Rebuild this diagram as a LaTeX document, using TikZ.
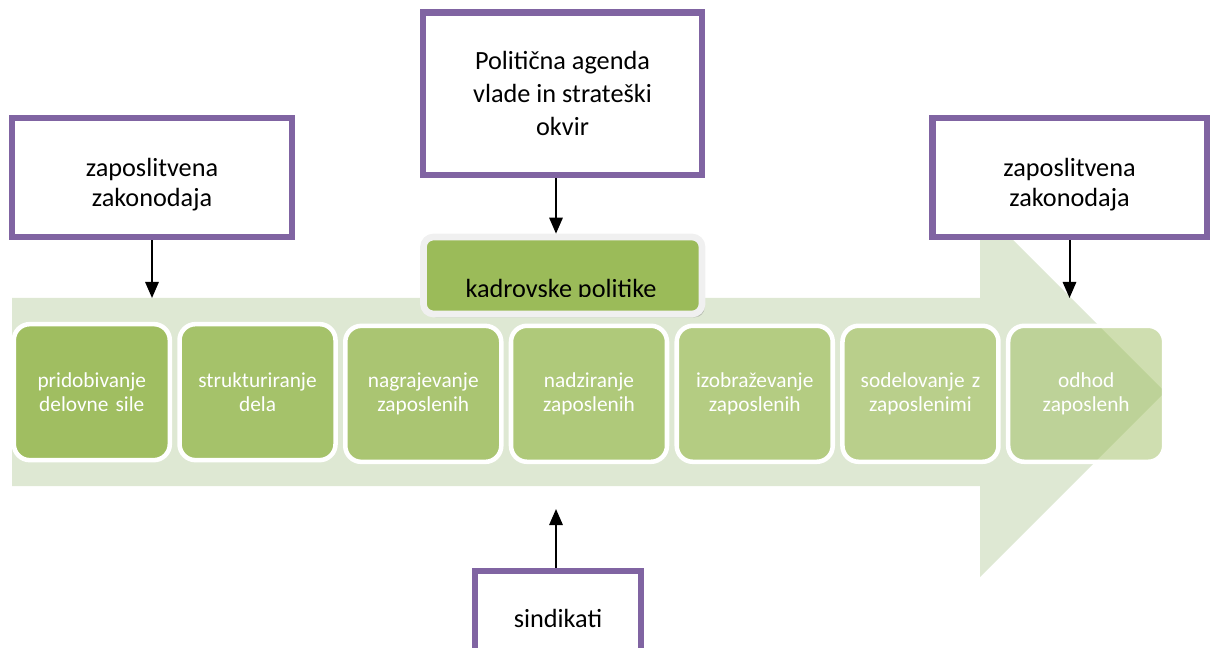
\documentclass[tikz,border=0pt]{standalone}
\usepackage{fontspec}
\setmainfont{Carlito}
\usepackage{tikz}
\usetikzlibrary{arrows.meta,matrix,positioning,shadows}
\definecolor{olive}{HTML}{9BBB59}
\definecolor{flowbg}{RGB}{222,232,211}
\definecolor{framepurple}{HTML}{8064A2}
\tikzset{frame box/.style={
    draw=framepurple, line width=5pt, fill=white,
    minimum width=#1,
    align=center,
    inner sep=0pt,
    font=\fontsize{19.7}{22}\selectfont
  },
  frame box/.default=210pt,
  step row/.style={
    matrix of nodes,
    column sep=3.9pt,
    nodes={draw=white, line width=3.4pt,
      rounded corners=12pt,
      minimum width=117pt, minimum height=102pt,
      text width=112pt,
      align=center,
      inner sep=0pt,
      text=white,
      font=\fontsize{16}{18}\selectfont
    },
  },
  flow arrow/.style={line width=1.5pt, -{Triangle[length=12pt,width=10pt]}}
}
\newcommand{\lowerfirst}{\rule{0pt}{1.25em}}

\begin{document}
\begin{tikzpicture}[x=0.75pt,y=-0.75pt]
    \useasboundingbox (0,0) rectangle (1212,648);
    \fill[flowbg] (12,298) -- (980,298) -- (980,207) -- (1165,392) -- (980,577) -- (980,486) -- (12,486) -- cycle;
    \coordinate (flowtop) at (0,298);
    \coordinate (flowbot) at (0,509);
    \coordinate (axis) at (556,0);

    \matrix (steps) [step row] at (589,393) {
        |[fill=olive!95]| {pridobivanje\\delovne sile} &
        |[fill=olive!90]| {strukturiranje\\dela} &
        |[fill=olive!85]| {nagrajevanje\\zaposlenih} &
        |[fill=olive!80]| {nadziranje\\zaposlenih} &
        |[fill=olive!75]| {izobraževanje\\zaposlenih} &
        |[fill=olive!70]| {sodelovanje z\\zaposlenimi} &
        |[fill=olive, fill opacity=0.48, text opacity=1]| {odhod\\zaposlenh} \\
    };

    \node[draw=white!94!black, line width=5pt, fill=olive, rounded corners=7.5pt,
          minimum width=208.9pt, minimum height=57.75pt,
          drop shadow={shadow xshift=2pt, shadow yshift=-2.5pt, opacity=0.4}] (policy) at (562.75,275.5) {};
    \begin{scope}
        \clip (427,241) rectangle (698,296.5);
        \node[anchor=base, font=\fontsize{19.7}{21}\selectfont] (policytext) at (561,297.5) {kadrovske politike};
    \end{scope}

    \node[frame box=210pt, minimum height=89.25pt] (lawleft) at (152,177.5) {\lowerfirst zaposlitvena\\zakonodaja};
    \node[frame box=209.25pt, minimum height=121.9pt, font=\fontsize{19.7}{24.75}\selectfont] (agenda) at (562.5,93.75) {Politična agenda\\vlade in strateški\\okvir};
    \node[frame box=206pt, minimum height=89.25pt] (lawright) at (1069.5,177.5) {\lowerfirst zaposlitvena\\zakonodaja};
    \node[frame box=124.5pt, minimum height=70.5pt] (unions) at (558,618) {sindikati};

    \draw[flow arrow] (lawleft.south) -- (lawleft.south |- flowtop);
    \draw[flow arrow] (agenda.south -| axis) -- (policy.north -| axis);
    \draw[flow arrow] (lawright.south) -- (lawright.south |- flowtop);
    \draw[flow arrow] (unions.north -| axis) -- (flowbot -| axis);
\end{tikzpicture}
\end{document}
